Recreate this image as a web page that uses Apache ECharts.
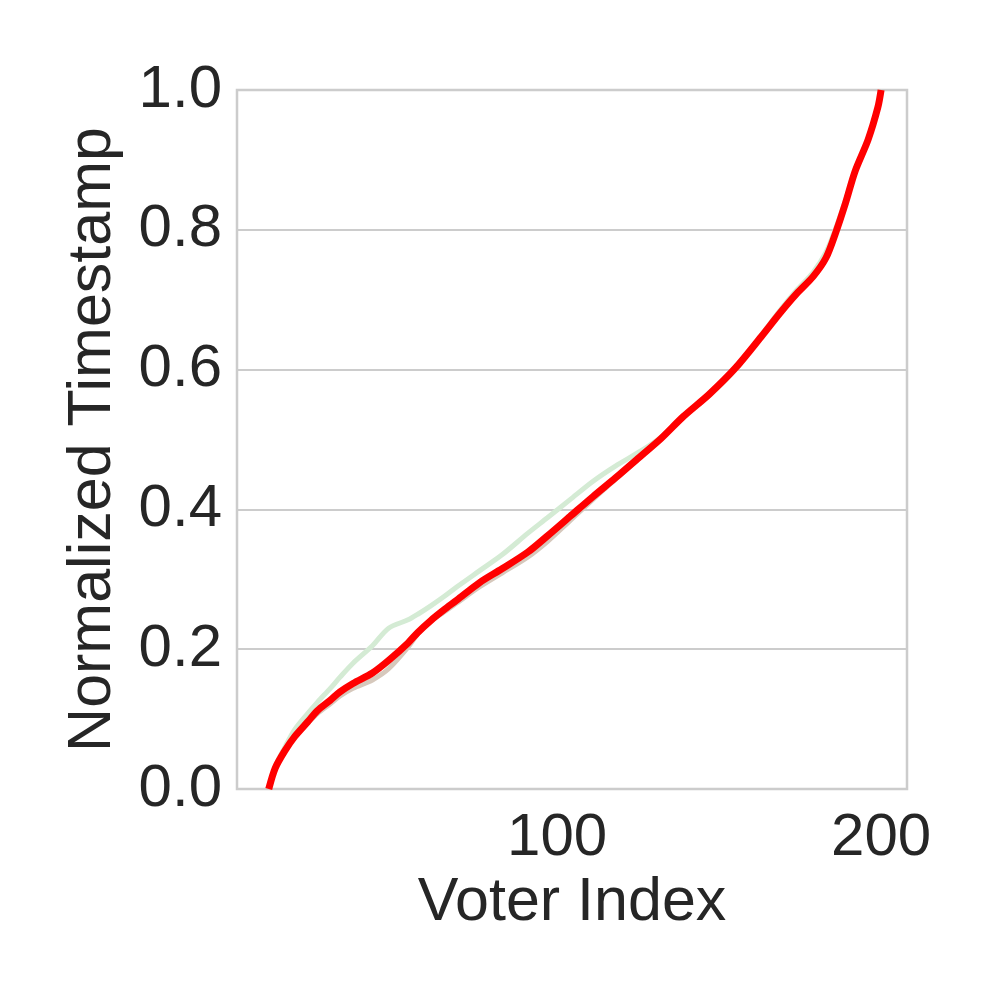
<!DOCTYPE html>
<html>
<head>
<meta charset="utf-8">
<script src="https://cdn.jsdelivr.net/npm/echarts@6/dist/echarts.min.js"></script>
<style>html,body{margin:0;padding:0;background:#fff}#chart{width:997px;height:997px}</style>
</head>
<body>
<div id="chart"></div>
<script>
// Data
const voterIndex = [11,13,16,19,23,26,30,33,37,43,48,54,57,61,65,69,76,83,91,97,104,111,118,126,132,139,147,155,163,169,174,179,183,186,189,192,196,199,200];
const greenTs = [0.0,0.032,0.060,0.085,0.108,0.124,0.144,0.160,0.180,0.205,0.230,0.242,0.250,0.262,0.275,0.289,0.312,0.335,0.366,0.388,0.414,0.440,0.462,0.484,0.503,0.533,0.563,0.600,0.649,0.686,0.714,0.739,0.768,0.802,0.842,0.886,0.930,0.975,1.0];
const brownTs = [0.0,0.030,0.054,0.074,0.094,0.108,0.122,0.133,0.144,0.156,0.172,0.203,0.222,0.240,0.253,0.266,0.289,0.309,0.332,0.354,0.384,0.414,0.443,0.476,0.500,0.532,0.564,0.601,0.646,0.681,0.708,0.732,0.760,0.796,0.838,0.884,0.929,0.975,1.0];
const redTs = [0.0,0.030,0.055,0.075,0.096,0.112,0.127,0.139,0.151,0.166,0.184,0.209,0.224,0.241,0.256,0.270,0.295,0.315,0.339,0.362,0.390,0.418,0.445,0.477,0.501,0.533,0.565,0.602,0.647,0.682,0.709,0.733,0.760,0.796,0.838,0.884,0.929,0.975,1.0];
const xTickValues = [100, 200];
const yTicks = [0, 0.2, 0.4, 0.6, 0.8, 1.0];

const pairs = ys => voterIndex.map((x, i) => [x, ys[i]]);
const FONT = "'Liberation Sans', Arial, sans-serif";
const TXT = '#262626';

const chart = echarts.init(document.getElementById('chart'), null, {renderer: 'canvas'});
chart.setOption({
  animation: false,
  backgroundColor: '#ffffff',
  grid: {left: 237, top: 90, right: 90, bottom: 208, show: true, borderColor: '#cccccc', borderWidth: 2.5, backgroundColor: 'transparent'},
  xAxis: {
    type: 'value', min: 1.2, max: 208,
    name: 'Voter Index', nameLocation: 'middle', nameGap: 75,
    nameTextStyle: {fontSize: 61, color: TXT, fontFamily: FONT},
    axisLine: {show: false}, axisTick: {show: false}, splitLine: {show: false},
    axisLabel: {customValues: xTickValues, fontSize: 60, color: TXT, fontFamily: FONT, margin: 19}
  },
  yAxis: {
    type: 'value', min: yTicks[0], max: yTicks[yTicks.length - 1], interval: 0.2,
    name: 'Normalized Timestamp', nameLocation: 'middle', nameGap: 113,
    nameTextStyle: {fontSize: 61, color: TXT, fontFamily: FONT},
    axisLine: {show: false}, axisTick: {show: false},
    splitLine: {show: true, lineStyle: {color: '#cccccc', width: 2}},
    axisLabel: {fontSize: 60, color: TXT, fontFamily: FONT, margin: 15, formatter: v => v.toFixed(1)}
  },
  series: [
    {type: 'line', data: pairs(greenTs), smooth: 0.3, symbol: 'none', lineStyle: {color: '#d4ebd4', width: 5}, z: 2},
    {type: 'line', data: pairs(brownTs), smooth: 0.3, symbol: 'none', lineStyle: {color: '#d6c8bc', width: 5}, z: 3},
    {type: 'line', data: pairs(redTs), smooth: 0.3, symbol: 'none', lineStyle: {color: '#ff0000', width: 7}, z: 4}
  ]
});
</script>
</body>
</html>
